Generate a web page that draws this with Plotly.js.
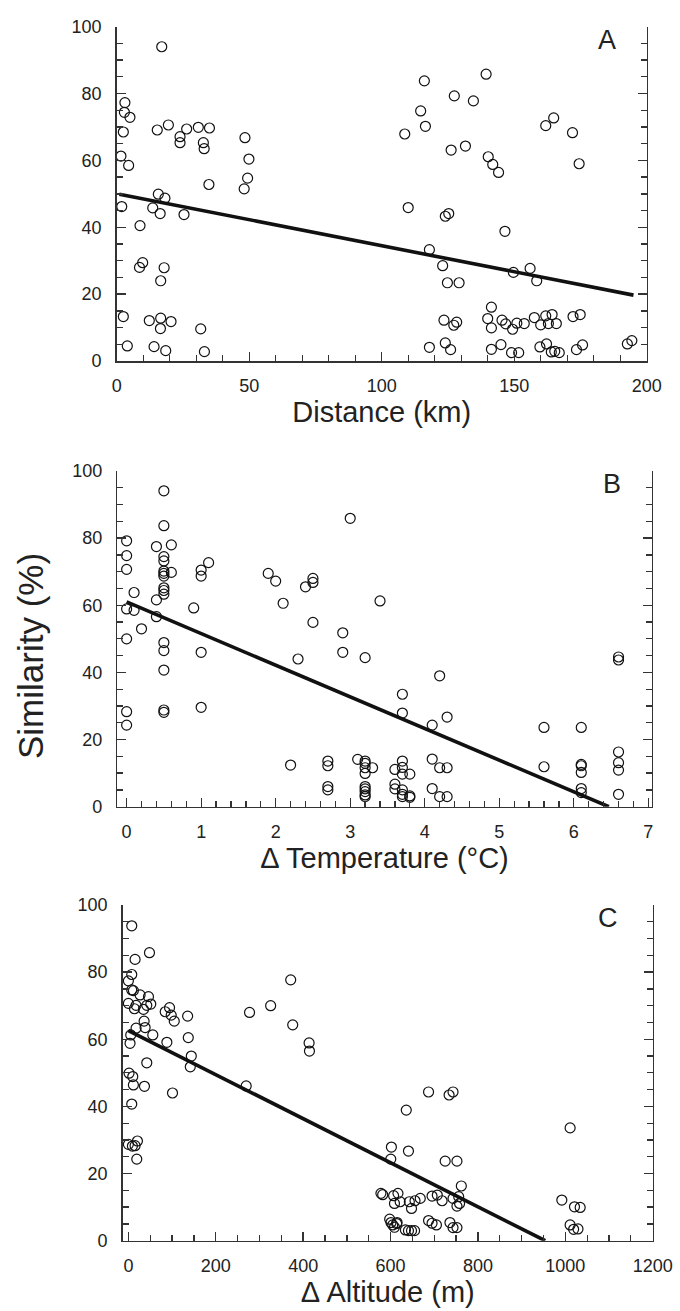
<!DOCTYPE html>
<html>
<head>
<meta charset="utf-8">
<script src="https://cdn.plot.ly/plotly-3.0.1.min.js"></script>
<style>html,body{margin:0;padding:0;background:#fff;}#chart{width:680px;height:1311px;}</style>
</head>
<body>
<div id="chart"></div>
<script>
// Panel A: Distance (km) vs Similarity (%)
const distA = [17,3.1,2.9,5,2.5,1.6,4.5,1.9,8.8,8.6,9.8,17.9,16.6,2.5,4,12.3,16.6,16.5,20.5,14.1,18.5,15.3,19.5,23.9,23.9,26.4,30.8,35,32.7,33,34.8,15.7,18.2,13.6,16.4,25.4,31.7,33.1,48.4,49.9,49.4,48.1,
  116.1,139.4,127.4,134.6,114.7,116.5,108.7,161.9,164.9,172,174.5,126.2,131.6,140.2,141.9,144.1,110,124,125.3,146.5,118,123,124.8,129.2,149.7,156,158.5,141.4,123.5,127.2,128.3,140,141.4,145.4,146.8,149.4,151,153.8,157.6,160,161.9,164.3,162.9,165.9,172.2,174.9,118,124,126,141.4,145,149,151.7,159.7,162.2,164,165.3,167,173.5,175.8,192.7,194.4];
const simA = [94,77.3,74.4,72.9,68.5,61.3,58.5,46.2,40.5,28,29.4,27.9,24,13.3,4.5,12.1,12.8,9.7,11.8,4.3,3.1,69.1,70.6,67.1,65.3,69.4,69.9,69.7,65.3,63.5,52.8,49.9,48.7,45.8,44.1,43.8,9.6,2.8,66.8,60.4,54.7,51.5,
  83.8,85.8,79.3,77.8,74.8,70.2,67.9,70.4,72.7,68.3,59,63.1,64.3,61.1,58.8,56.4,45.9,43.3,44.1,38.8,33.3,28.5,23.4,23.4,26.5,27.7,24,16.1,12.2,10.7,11.6,12.7,9.9,12.2,11.1,9.5,11.3,11.2,13,10.8,13.5,13.9,11.2,11.2,13.3,13.9,4.1,5.4,3.4,3.5,4.9,2.5,2.5,4.2,5.1,2.7,2.9,2.5,3.4,4.8,5.1,6.1];
const fitA_x = [1, 195];
const fitA_y = [49.9, 19.7];

// Panel B: Delta Temperature (°C) vs Similarity (%)
const tempB = [0.5,0.5,0,0,0,0.4,0.6,0.5,0.5,0.5,0.5,0.5,0.6,0.5,0.5,0.5,0.1,0.4,0,0.1,0.4,0.2,0,0.5,0.5,0.5,0.5,0.5,0,0,1.0,1.0,1.1,0.9,1.0,1.0,3.0,1.9,2.0,2.1,2.4,2.5,2.5,2.5,2.9,2.9,2.3,3.2,3.4,
  2.2,2.7,2.7,2.7,2.7,3.1,3.2,3.2,3.2,3.2,3.3,3.2,3.2,3.2,3.2,3.2,3.6,3.6,3.6,
  3.7,3.7,4.2,4.3,4.1,6.6,6.6,5.6,6.1,3.7,3.7,3.7,3.8,3.7,3.7,3.7,3.8,3.8,4.1,4.2,4.3,4.1,4.2,4.3,5.6,6.1,6.1,6.1,6.1,6.1,6.6,6.6,6.6,6.6];
const simB = [94.1,83.7,79.2,74.8,70.7,77.5,78,74.5,73.2,70.2,69.5,68.7,69.8,65.2,64.4,63.3,63.8,61.6,58.9,58.5,56.6,53,50,48.9,46.5,40.7,28.8,28.1,28.3,24.3,70.5,68.7,72.7,59.2,46,29.6,85.9,69.5,67.2,60.6,65.5,68,66.8,54.9,51.8,46,44,44.4,61.3,
  12.4,13.6,12.2,6,5,14.1,13.6,12.9,11.6,9.9,11.6,6,5.3,4.5,3.5,3,11.1,6.7,5.3,
  33.5,27.9,39,26.7,24.3,44.6,43.7,23.6,23.6,13.6,11.7,9.7,9.7,5,3.7,3,3.2,2.8,14.2,11.6,11.6,5.4,3,3,11.9,12.6,12.2,10.2,5.4,4.2,16.3,13.1,10.9,3.7];
const fitB_x = [0, 6.47];
const fitB_y = [61, 0];

// Panel C: Delta Altitude (m) vs Similarity (%)
const altC = [7.7,48.3,15.3,7.7,0,7.7,11.5,26.8,46,0,17.6,13.8,34.5,42.1,51.3,84.3,94.2,98,105,135.6,36,38.3,17.6,5.4,55.9,3.8,88.1,137.1,144,141.7,42.1,1.5,10,11.5,36.8,101,7.7,269.6,277.3,325.6,371.5,376.1,413.6,414.4,0,9.2,15.3,20.7,19.2,602,600.5,578,582,607,609,617,598,601,605,609,615,
  687,734,743,636,1011,641,725,752,762,622,643,648,656,668,695,707,718,743,752,758,756,992,1021,1034,614,634,641,648,655,687,695,705,736,743,752,1011,1019,1029];
const simC = [93.8,85.8,83.8,79.3,77.4,74.7,74.5,73.2,72.7,70.7,70.1,69.1,68.9,70.1,70.5,68.2,69.4,67.2,65.4,66.9,65.4,63.5,63.3,61.3,61.3,58.8,59.1,60.5,55,51.8,53,49.9,48.9,46.4,46,44,40.7,46.1,68,70,77.7,64.3,58.9,56.5,28.7,28.2,28.3,29.7,24.3,27.9,24.3,14.1,13.7,13.4,11.1,14.1,6.4,5.4,4.7,4,5.4,
  44.3,43.4,44.3,38.9,33.6,26.7,23.7,23.7,16.3,11.6,11.6,9.6,11.9,12.6,13.3,13.6,11.9,12.6,10.3,11.1,13.1,12.1,10.1,9.9,5.1,3.2,3,3,3,6,5.2,4.7,5.4,3.9,3.9,4.7,3.4,3.5];
const fitC_x = [0, 954];
const fitC_y = [62.6, 0];

const FONT = 'Liberation Sans, Arial, Helvetica, sans-serif';
const AX = '#333';

const marker = {symbol: 'circle-open', size: 10, color: '#111', line: {width: 1.2, color: '#111'}};
function pts(x, y, xa, ya) {
  return {type: 'scatter', mode: 'markers', x: x, y: y, xaxis: xa, yaxis: ya, marker: marker, hoverinfo: 'x+y', showlegend: false, cliponaxis: false};
}
function fit(x, y, xa, ya) {
  return {type: 'scatter', mode: 'lines', x: x, y: y, xaxis: xa, yaxis: ya, line: {color: '#111', width: 3.6}, showlegend: false, hoverinfo: 'skip'};
}

const data = [
  fit(fitA_x, fitA_y, 'x', 'y'), pts(distA, simA, 'x', 'y'),
  fit(fitB_x, fitB_y, 'x2', 'y2'), pts(tempB, simB, 'x2', 'y2'),
  fit(fitC_x, fitC_y, 'x3', 'y3'), pts(altC, simC, 'x3', 'y3')
];

function xax(domain, range, dtick, minor, anchor, title) {
  return {
    domain: domain, range: range, anchor: anchor,
    showline: true, linecolor: AX, linewidth: 1.5, mirror: false,
    showgrid: false, zeroline: false,
    ticks: 'inside', ticklen: 9, tickwidth: 1.3, tickcolor: AX, dtick: dtick, tick0: 0,
    minor: {dtick: minor, tick0: 0, ticks: 'inside', ticklen: 6, tickwidth: 1.3, tickcolor: AX, showgrid: false},
    tickfont: {family: FONT, size: 18, color: '#222'},
    ticklabelstandoff: 8,
    title: {text: title, font: {family: FONT, size: 29, color: '#222'}, standoff: 6}
  };
}
function yax(domain, anchor) {
  return {
    domain: domain, range: [0, 100], anchor: anchor,
    showline: true, linecolor: AX, linewidth: 1.5, mirror: 'ticks',
    showgrid: false, zeroline: false,
    ticks: 'inside', ticklen: 9, tickwidth: 1.3, tickcolor: AX, dtick: 20, tick0: 0,
    minor: {dtick: 5, tick0: 0, ticks: 'inside', ticklen: 6, tickwidth: 1.3, tickcolor: AX, showgrid: false},
    tickfont: {family: FONT, size: 18, color: '#222'},
    ticklabelstandoff: 10
  };
}

const W = 680, H = 1311;
const layout = {
  width: W, height: H,
  margin: {l: 0, r: 0, t: 0, b: 0},
  paper_bgcolor: '#fff', plot_bgcolor: '#fff',
  showlegend: false,
  xaxis: xax([116.7 / W, 646.7 / W], [0, 200], 50, 10, 'y', 'Distance (km)'),
  yaxis: yax([1 - 361 / H, 1 - 26.7 / H], 'x'),
  xaxis2: xax([117.3 / W, 651.7 / W], [-0.125, 7.045], 1, 0.2, 'y2', 'Δ Temperature (°C)'),
  yaxis2: yax([1 - 806.7 / H, 1 - 471 / H], 'x2'),
  xaxis3: xax([122.7 / W, 652.7 / W], [-13, 1200], 200, 50, 'y3', 'Δ Altitude (m)'),
  yaxis3: yax([1 - 1240.7 / H, 1 - 905 / H], 'x3'),
  annotations: [
    {text: 'Similarity (%)', xref: 'paper', yref: 'paper', x: 30 / W, y: 1 - 656 / H, textangle: -90, showarrow: false, font: {family: FONT, size: 35, color: '#222'}, xanchor: 'center', yanchor: 'middle'},
    {text: 'A', xref: 'paper', yref: 'paper', x: 607 / W, y: 1 - 40 / H, showarrow: false, font: {family: FONT, size: 27, color: '#222'}, xanchor: 'center', yanchor: 'middle'},
    {text: 'B', xref: 'paper', yref: 'paper', x: 612 / W, y: 1 - 484 / H, showarrow: false, font: {family: FONT, size: 27, color: '#222'}, xanchor: 'center', yanchor: 'middle'},
    {text: 'C', xref: 'paper', yref: 'paper', x: 608 / W, y: 1 - 918 / H, showarrow: false, font: {family: FONT, size: 27, color: '#222'}, xanchor: 'center', yanchor: 'middle'}
  ]
};

Plotly.newPlot('chart', data, layout, {staticPlot: true, displayModeBar: false});
</script>
</body>
</html>
